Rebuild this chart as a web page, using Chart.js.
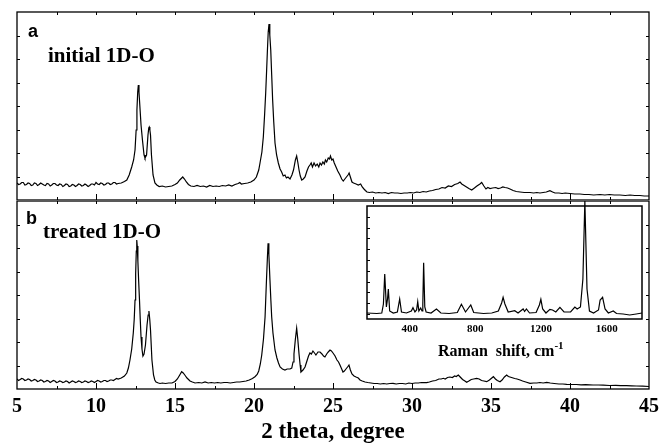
<!DOCTYPE html>
<html>
<head>
<meta charset="utf-8">
<script src="https://cdn.jsdelivr.net/npm/chart.js@4.4.1/dist/chart.umd.min.js"></script>
<style>
body { margin: 0; background: #fff; }
#wrap { position: relative; width: 661px; height: 448px; overflow: hidden; }
canvas { position: absolute; }
.lbl { position: absolute; white-space: nowrap; color: #000; font-weight: bold; }
.serif { font-family: "Liberation Serif", "Times New Roman", serif; }
.sans { font-family: "Liberation Sans", Arial, sans-serif; }
</style>
</head>
<body>
<div id="wrap">
  <canvas id="chartA" width="661" height="201" style="left:0;top:0"></canvas>
  <canvas id="chartB" width="661" height="247" style="left:0;top:201px"></canvas>
  <canvas id="chartInset" width="361" height="170" style="left:300px;top:201px"></canvas>
  <div class="lbl sans" style="left:28px;top:22px;font-size:18px;line-height:18px">a</div>
  <div class="lbl serif" style="left:48px;top:45px;font-size:21px;line-height:21px">initial 1D-O</div>
  <div class="lbl sans" style="left:26px;top:209px;font-size:18px;line-height:18px">b</div>
  <div class="lbl serif" style="left:43px;top:221px;font-size:21px;line-height:21px">treated 1D-O</div>
  <div class="lbl serif" style="left:438px;top:343px;font-size:16px;line-height:16px">Raman&nbsp; shift, cm<span style="position:relative;top:-7px;font-size:11px">-1</span></div>
</div>
<script>
// XRD, panel a (initial)
const twoThetaA = [5.0,5.1,5.2,5.3,5.4,5.5,5.6,5.7,5.8,5.9,6.0,6.1,6.2,6.3,6.4,6.5,6.6,6.7,6.8,6.9,7.0,7.1,7.2,7.3,7.4,7.5,7.6,7.7,7.8,7.9,8.0,8.1,8.2,8.3,8.4,8.5,8.6,8.7,8.8,8.9,9.0,9.1,9.2,9.3,9.4,9.5,9.6,9.7,9.8,9.9,10.0,10.1,10.2,10.3,10.4,10.5,10.6,10.7,10.8,10.9,11.0,11.1,11.2,11.3,11.4,11.6,11.8,11.95,12.1,12.26,12.38,12.47,12.54,12.59,12.64,12.68,12.72,12.76,12.85,12.94,13.04,13.1,13.2,13.29,13.34,13.37,13.41,13.45,13.51,13.61,13.73,13.85,14.0,14.2,14.4,14.6,14.8,15.0,15.15,15.3,15.49,15.6,15.72,15.85,16.0,16.2,16.4,16.6,16.8,17.0,17.2,17.4,17.6,17.8,18.0,18.2,18.4,18.6,18.8,19.0,19.1,19.2,19.4,19.6,19.8,20.0,20.15,20.3,20.38,20.5,20.59,20.67,20.74,20.8,20.85,20.9,20.95,21.0,21.06,21.12,21.18,21.25,21.33,21.43,21.54,21.65,21.75,21.85,21.96,22.05,22.15,22.28,22.4,22.5,22.62,22.7,22.77,22.85,22.93,23.02,23.12,23.23,23.35,23.45,23.54,23.62,23.7,23.8,23.9,24.0,24.1,24.18,24.27,24.36,24.45,24.52,24.6,24.7,24.78,24.84,24.92,25.0,25.08,25.19,25.3,25.44,25.55,25.65,25.75,25.85,25.95,26.02,26.1,26.2,26.3,26.46,26.6,26.75,26.85,26.96,27.05,27.15,27.3,27.5,27.7,27.9,28.1,28.3,28.5,28.7,28.9,29.1,29.3,29.5,29.7,29.9,30.1,30.3,30.5,30.7,30.9,31.1,31.3,31.5,31.7,31.9,32.1,32.3,32.5,32.7,32.9,33.04,33.15,33.3,33.45,33.6,33.78,33.95,34.11,34.3,34.41,34.55,34.68,34.8,34.94,35.1,35.3,35.45,35.6,35.75,35.89,36.05,36.2,36.4,36.6,36.84,37.1,37.3,37.47,37.7,37.9,38.1,38.3,38.5,38.73,38.9,39.05,39.3,39.5,39.7,40.0,40.3,40.63,40.9,41.2,41.5,41.9,42.2,42.5,42.8,43.16,43.5,43.8,44.1,44.43,44.7,45.0];
const intensityA = [17,15.5,16,17.5,17.5,15,15.5,17,16.5,14.5,15,17,16.5,14.5,15.5,17,16,15,14.5,16.5,16,14,15,16.5,16.5,15,14.5,16,15.5,13.5,14.5,16,15.5,13.5,14,15.5,15,13.5,14.5,16,15.5,14,14.5,16,15,13.5,14.5,16,16,15,17.5,16,15.5,17,16.5,15,15.5,17,17,15.5,16,17.5,17.5,16,16.5,17,18.5,20,25,33,40,50,70,90,108,115,108,98,75,60,45,42,45,65,72,73,70,65,45,25,17,15,13.5,14,13,13.5,14,15.5,17,20,23,21,18,15.5,14,13.5,14.5,13.5,14,13,14.5,13.5,14,13.5,14.5,14,15,14,15.5,16.5,17.5,16,16.5,17,18,20,23,30,37,48,63,85,107,130,150,168,176,165,150,125,100,78,57,45,37,31,28,24,25,22,23,21,25,30,40,44,38,30,24,20,21,23,29,33,35,37,33,37,34,36,33,37,35,38,36,40,38,42,41,44,40,41,37,33,29,25,21,19,21,23,25,27,23,18,17,16,15,16,13,11,9.5,8,7.5,8,7,7.5,7,7.5,6.5,7.5,7,7,6.5,7,7,7.5,7,8,7.5,8.5,8,9,9.5,10.5,11,12.5,12,14,13.5,15.5,16.5,18,16,14.5,13,11.5,10,12,14,16,17.5,14,11,12.5,11.5,12,12.5,11.5,12,13,12.5,12,11,9.5,8.5,8,7.5,7.5,7.5,7,7.5,7,7.5,8,9.3,8,7,7,6.5,7,6.5,6,6,5.5,5.5,5,5.5,5,5.5,5,5,4.5,5,4.5,4.5,4,4];

// XRD, panel b (treated)
const twoThetaB = [5.0,5.1,5.2,5.3,5.4,5.5,5.6,5.7,5.8,5.9,6.0,6.1,6.2,6.3,6.4,6.5,6.6,6.7,6.8,6.9,7.0,7.1,7.2,7.3,7.4,7.5,7.6,7.7,7.8,7.9,8.0,8.1,8.2,8.3,8.4,8.5,8.6,8.7,8.8,8.9,9.0,9.1,9.2,9.3,9.4,9.5,9.6,9.7,9.8,9.9,10.0,10.1,10.2,10.3,10.4,10.5,10.6,10.7,10.8,10.9,11.0,11.1,11.2,11.3,11.4,11.6,11.8,11.95,12.05,12.15,12.26,12.36,12.42,12.47,12.51,12.55,12.58,12.61,12.65,12.7,12.75,12.8,12.85,12.91,12.97,13.04,13.13,13.23,13.3,13.35,13.4,13.45,13.54,13.64,13.72,13.8,13.95,14.05,14.2,14.4,14.6,14.81,15.0,15.15,15.3,15.42,15.52,15.62,15.76,15.95,16.1,16.27,16.5,16.7,16.9,17.1,17.3,17.5,17.7,17.9,18.1,18.3,18.5,18.7,18.9,19.1,19.3,19.5,19.7,19.9,20.06,20.2,20.3,20.4,20.49,20.6,20.7,20.79,20.85,20.89,20.94,21.01,21.07,21.12,21.2,21.33,21.45,21.55,21.65,21.8,21.96,22.1,22.28,22.39,22.47,22.53,22.62,22.7,22.77,22.85,22.92,22.97,23.1,23.23,23.35,23.45,23.54,23.63,23.73,23.83,23.92,24.05,24.18,24.3,24.4,24.49,24.6,24.7,24.81,24.9,25.0,25.13,25.25,25.35,25.44,25.55,25.63,25.72,25.82,25.92,26.01,26.1,26.2,26.33,26.46,26.6,26.71,26.85,27.03,27.2,27.4,27.6,27.8,28.0,28.2,28.4,28.6,28.8,29.0,29.2,29.4,29.6,29.8,30.0,30.2,30.4,30.6,30.93,31.1,31.3,31.5,31.7,31.85,31.98,32.1,32.25,32.4,32.55,32.7,32.8,32.93,33.05,33.2,33.35,33.46,33.6,33.75,33.9,34.09,34.25,34.4,34.55,34.73,34.9,35.05,35.15,35.28,35.4,35.57,35.7,35.85,35.99,36.1,36.3,36.5,36.65,36.84,37.0,37.2,37.47,37.7,37.9,38.1,38.3,38.53,38.75,39.0,39.3,39.55,39.79,40.1,40.4,40.7,41.0,41.46,41.8,42.1,42.5,42.9,43.2,43.59,43.9,44.2,44.6,45.0];
const intensityB = [10,8.5,9.5,10.5,10,8.5,9,10,9.5,8,8.5,9.5,9,7.5,8,9,8.5,7,7.5,8.5,8,6.5,7.5,8.5,8,6.5,7,8,7.5,6.5,7,8,7.5,6,7,8,7.5,6.5,7,8,7.5,6.5,7,8,7.5,6.5,7,8,7.5,6.5,7.5,8.5,8,7,7.5,8.5,8.5,7.5,8,9,9,8.5,9.5,10.5,10,11,13,16,21,29,40,56,70,89,115,138,149,143,128,108,90,70,52,40,33,35,44,64,74,78,70,59,29,14,9,7,6,5.5,6,5.5,6,6,7.5,10,14,17.3,16,14,11,8,7,6,6.5,6,7,6,6.5,6,6.5,6,6.5,6.5,6,6.5,7,7,7.5,8,9,10.5,12.3,14.5,18,25,34,50,72,109,132,145.7,135,109,88,72,56,39,31,26,22,20,19,20,20,21,27,35,50,60.7,50,35,24,17,19,22,28,33,36,35,38,36,34,37,37,35,33,32,35,37,39,38,36,33,29,27,24,20,17,18,20,22,24,19,15,13,12,11,9,8,7,6.5,6,5.5,5.5,5,5.5,5,5.5,5.7,5,5.5,5.5,5,6,5.5,6,6,6.5,6.3,7,8,8.5,10,10,10.7,10,11.5,12,11.5,13,12.5,14,12,9.5,8,6.7,8,9.5,10,10.7,10,8.5,8,7.3,9,11,12.3,10,8.5,7.3,9,12,14,12.5,11.5,10.5,10,9,8,7,5.7,6,6,6.5,6,6.7,6,5.5,5,5,4.7,4.5,4.5,4.2,4.3,4,4,3.8,3.5,3.6,3.4,3.3,3.2,3,2.8,2.5];

// Raman inset
const ramanShift = [140,200,230,240,248,258,265,270,278,300,325,339,350,380,410,420,432,442,449,456,467,475,480,485,492,500,530,563,590,640,690,715,740,772,790,850,900,940,960,969,980,1000,1040,1060,1091,1100,1111,1130,1170,1190,1199,1210,1230,1254,1270,1290,1315,1340,1380,1406,1420,1440,1455,1467,1480,1495,1520,1550,1560,1575,1590,1610,1640,1660,1700,1740,1780,1815];
const ramanIntensity = [6,5.5,6,15,45,12,20,30,8,6,7,20,7,6,8,11.3,7,9,17.3,8,11,8,15,56.3,12,7,6,10,6,5.5,6.5,14.7,7,14,6.5,5.5,6,8,16,21.7,15,7,8.3,6,10,7.5,10,6,6.5,14,19.7,10,6,9.7,9,7,11.7,7,7,12,10,12,40,118,30,8,6,9,19,21.7,10,6,8,5.5,5,4,5,6];

// axis ticks
const xrdLabelTicks = [5, 10, 15, 20, 25, 30, 35, 40, 45];
const xrdMinorTicks = [7.5, 12.5, 17.5, 22.5, 27.5, 32.5, 37.5, 42.5];
const xrdMajorTicks = [10, 15, 20, 25, 30, 35, 40];
const xrdYTicks = [23.5, 47, 70.5, 94, 117.5, 141, 164.5];
const ramanLabelTicks = [400, 800, 1200, 1600];
const ramanYTicks = [5, 15.8, 26.6, 37.4, 48.2, 59, 69.8, 80.6, 91.4, 102.2];

function toPoints(xs, ys) {
    return xs.map((x, i) => ({ x: x, y: ys[i] }));
}

// frame and inward ticks
const frameTicks = {
    id: 'frameTicks',
    afterDatasetsDraw(chart, args, opts) {
        const ctx = chart.ctx;
        const a = chart.chartArea;
        const x = chart.scales.x;
        const y = chart.scales.y;
        ctx.save();
        ctx.strokeStyle = '#000';
        ctx.lineWidth = opts.frameWidth;
        ctx.strokeRect(a.left, a.top, a.right - a.left, a.bottom - a.top);
        ctx.lineWidth = 1;
        ctx.beginPath();
        (opts.xMajor || []).forEach(v => {
            const px = Math.round(x.getPixelForValue(v)) + 0.5;
            ctx.moveTo(px, a.bottom); ctx.lineTo(px, a.bottom - 6);
            if (opts.top) { ctx.moveTo(px, a.top); ctx.lineTo(px, a.top + 3); }
        });
        (opts.xMinor || []).forEach(v => {
            const px = Math.round(x.getPixelForValue(v)) + 0.5;
            ctx.moveTo(px, a.bottom); ctx.lineTo(px, a.bottom - 3);
            if (opts.top) { ctx.moveTo(px, a.top); ctx.lineTo(px, a.top + 3); }
        });
        (opts.yTicks || []).forEach(v => {
            const py = Math.round(y.getPixelForValue(v)) + 0.5;
            ctx.moveTo(a.left, py); ctx.lineTo(a.left + 3, py);
            if (opts.right) { ctx.moveTo(a.right, py); ctx.lineTo(a.right - 3, py); }
        });
        ctx.stroke();
        ctx.restore();
    }
};

const serif = '"Liberation Serif", "Times New Roman", serif';

function lineSet(points, clip) {
    return {
        data: points,
        borderColor: '#000',
        borderWidth: 1.2,
        pointRadius: 0,
        tension: 0,
        clip: clip
    };
}

const common = {
    responsive: false,
    animation: false,
    events: [],
    plugins: { legend: { display: false }, tooltip: { enabled: false } }
};

new Chart(document.getElementById('chartA'), {
    type: 'line',
    data: { datasets: [lineSet(toPoints(twoThetaA, intensityA), true)] },
    plugins: [frameTicks],
    options: {
        ...common,
        layout: { padding: { left: 17, right: 12, top: 12, bottom: 1 } },
        scales: {
            x: { type: 'linear', min: 5, max: 45, display: false },
            y: { type: 'linear', min: 0, max: 188, display: false }
        },
        plugins: {
            ...common.plugins,
            frameTicks: { frameWidth: 1.3, xMajor: xrdMajorTicks, xMinor: xrdMinorTicks, yTicks: xrdYTicks, top: true, right: true }
        }
    }
});

new Chart(document.getElementById('chartB'), {
    type: 'line',
    data: { datasets: [lineSet(toPoints(twoThetaB, intensityB), true)] },
    plugins: [frameTicks],
    options: {
        ...common,
        layout: { padding: { left: 17, right: 12, top: 0, bottom: 0 } },
        scales: {
            x: {
                type: 'linear', min: 5, max: 45,
                afterBuildTicks: s => { s.ticks = xrdLabelTicks.map(v => ({ value: v })); },
                afterFit: s => { s.height = 59; },
                grid: { display: false },
                border: { display: false },
                ticks: {
                    maxRotation: 0, autoSkip: false, padding: 0, color: '#000',
                    font: { family: serif, size: 20, weight: 'bold', lineHeight: 1 },
                    callback: v => String(v)
                },
                title: {
                    display: true, text: '2 theta, degree', color: '#000', padding: { top: 0, bottom: 4 },
                    font: { family: serif, size: 23, weight: 'bold', lineHeight: 1 }
                }
            },
            y: { type: 'linear', min: 0, max: 188, display: false }
        },
        plugins: {
            ...common.plugins,
            frameTicks: { frameWidth: 1.3, xMajor: xrdMajorTicks, xMinor: xrdMinorTicks, yTicks: xrdYTicks, top: true, right: true }
        }
    }
});

new Chart(document.getElementById('chartInset'), {
    type: 'line',
    data: { datasets: [lineSet(toPoints(ramanShift, ramanIntensity), false)] },
    plugins: [frameTicks],
    options: {
        ...common,
        layout: { padding: { left: 67, right: 19, top: 5, bottom: 0 } },
        scales: {
            x: {
                type: 'linear', min: 140, max: 1815,
                afterBuildTicks: s => { s.ticks = ramanLabelTicks.map(v => ({ value: v })); },
                afterFit: s => { s.height = 52; },
                grid: { display: false },
                border: { display: false },
                ticks: {
                    maxRotation: 0, autoSkip: false, padding: -3, color: '#000',
                    font: { family: serif, size: 11, weight: 'bold', lineHeight: 1 },
                    callback: v => String(v)
                }
            },
            y: { type: 'linear', min: 0, max: 113, display: false }
        },
        plugins: {
            ...common.plugins,
            frameTicks: { frameWidth: 1.5, yTicks: ramanYTicks, top: false, right: false }
        }
    }
});
</script>
</body>
</html>
